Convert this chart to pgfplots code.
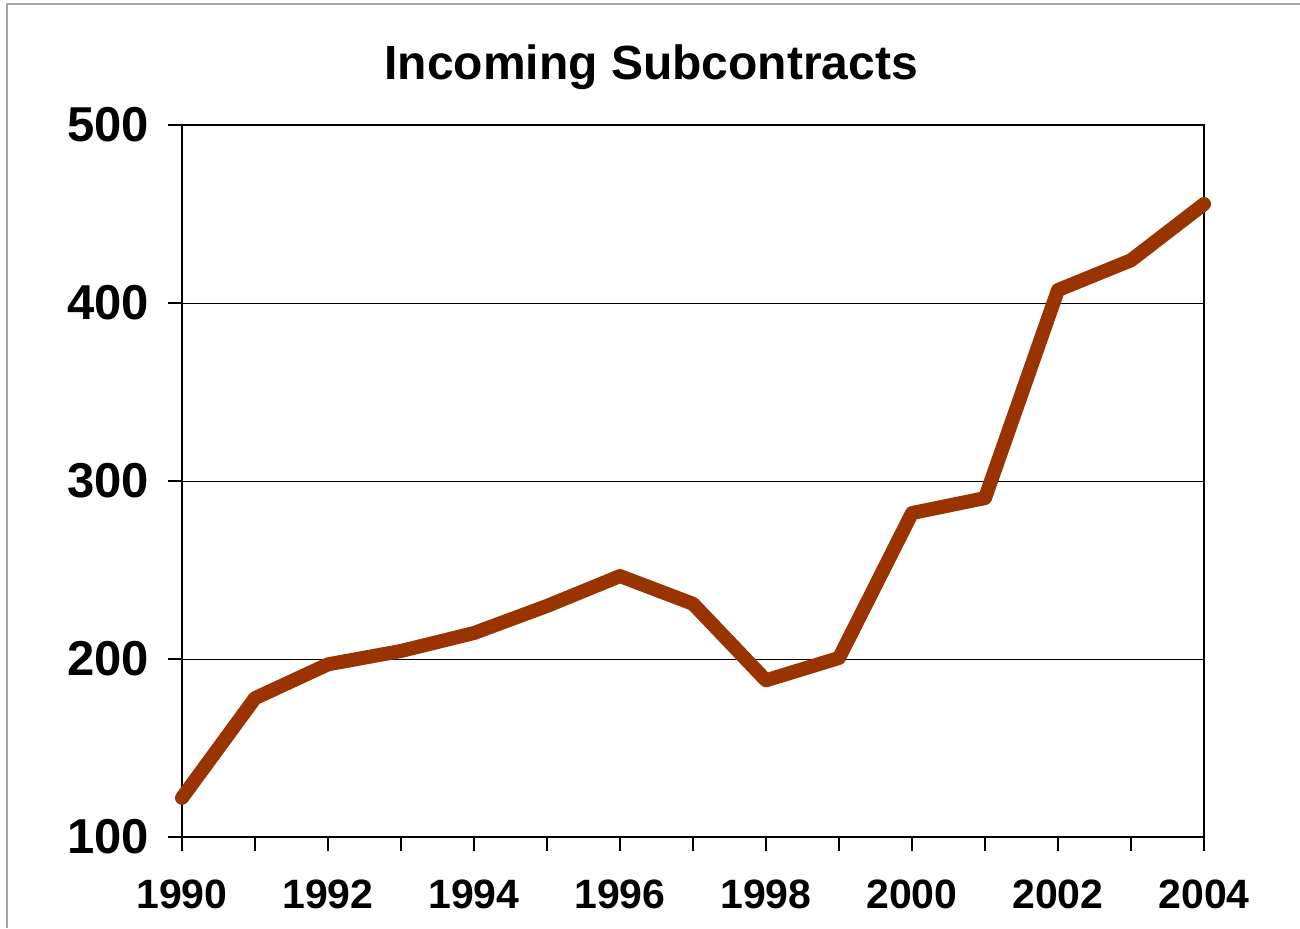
\documentclass[border=0pt]{standalone}
\usepackage{fontspec}
\setmainfont{Liberation Sans}
\usepackage{pgfplots}
\pgfplotsset{compat=1.18}
\definecolor{rust}{RGB}{153,51,0}
\begin{document}
\begin{tikzpicture}
\useasboundingbox (-91pt,-45.5pt) rectangle (559pt,418.5pt);
% slide frame
\draw[gray!70, line width=0.8pt] (-87.5pt,-45.5pt) -- (-87.5pt,416.5pt) -- (559pt,416.5pt);
\begin{axis}[
    at={(0,0)}, anchor=south west,
    scale only axis,
    width=511pt, height=356pt,
    xmin=1990, xmax=2004,
    ymin=100, ymax=500,
    xtick={1990,1992,...,2004},
    minor xtick={1991,1993,...,2003},
    ytick={100,200,...,500},
    xtick pos=bottom, ytick pos=left,
    tick align=outside,
    major tick length=7pt,
    minor tick length=7pt,
    tick style={black, line width=0.6pt},
    axis line style={black, line width=0.8pt},
    ymajorgrids,
    grid style={black, line width=0.5pt},
    /pgf/number format/1000 sep={},
    /pgf/number format/assume math mode=true,
    xticklabel style={font=\fontsize{20.5}{24}\selectfont\bfseries, yshift=-11pt},
    yticklabel style={font=\fontsize{24.5}{28}\selectfont\bfseries, xshift=-6pt},
    title={Incoming Subcontracts},
    title style={font=\fontsize{24}{28}\selectfont\bfseries, at={(axis description cs:0.459,1.065)}, anchor=center},
    clip=false,
]
\addplot[rust, line width=7pt, line cap=round, line join=round] coordinates {
    (1990,122) (1991,178) (1992,197) (1993,204.5) (1994,214.6)
    (1995,229.8) (1996,246.6) (1997,231) (1998,188) (1999,200.6)
    (2000,282) (2001,290.4) (2002,407.3) (2003,424) (2004,455.6)
};
\end{axis}
\end{tikzpicture}
\end{document}
